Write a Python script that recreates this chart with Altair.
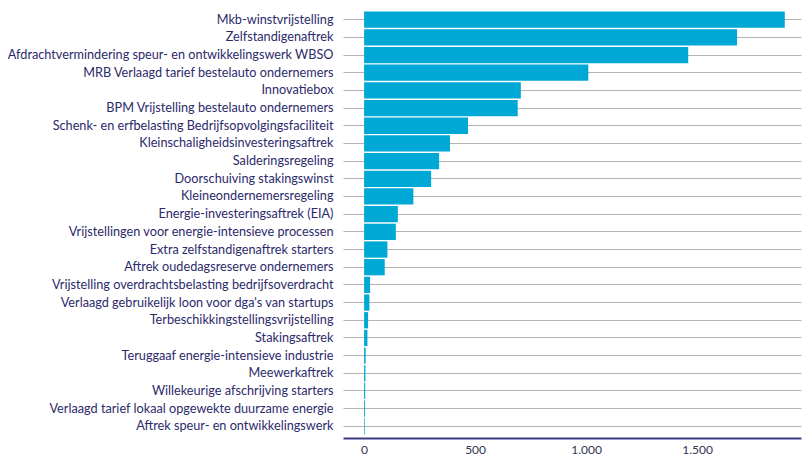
import altair as alt
import pandas as pd

categories = [
    "Mkb-winstvrijstelling",
    "Zelfstandigenaftrek",
    "Afdrachtvermindering speur- en ontwikkelingswerk WBSO",
    "MRB Verlaagd tarief bestelauto ondernemers",
    "Innovatiebox",
    "BPM Vrijstelling bestelauto ondernemers",
    "Schenk- en erfbelasting Bedrijfsopvolgingsfaciliteit",
    "Kleinschaligheidsinvesteringsaftrek",
    "Salderingsregeling",
    "Doorschuiving stakingswinst",
    "Kleineondernemersregeling",
    "Energie-investeringsaftrek (EIA)",
    "Vrijstellingen voor energie-intensieve processen",
    "Extra zelfstandigenaftrek starters",
    "Aftrek oudedagsreserve ondernemers",
    "Vrijstelling overdrachtsbelasting bedrijfsoverdracht",
    "Verlaagd gebruikelijk loon voor dga's van startups",
    "Terbeschikkingstellingsvrijstelling",
    "Stakingsaftrek",
    "Teruggaaf energie-intensieve industrie",
    "Meewerkaftrek",
    "Willekeurige afschrijving starters",
    "Verlaagd tarief lokaal opgewekte duurzame energie",
    "Aftrek speur- en ontwikkelingswerk",
]
values = [1895, 1680, 1460, 1010, 706, 692, 468, 387, 338, 302, 222, 152, 143,
          105, 93, 27, 24, 18, 15, 7, 6, 5, 4, 3]
x_ticks = [0, 500, 1000, 1500]

df = pd.DataFrame({"regeling": categories, "waarde": values})

NAVY = "#2c2a6b"

bars = alt.Chart(df).mark_bar(color="#00a8d5").encode(
    y=alt.Y(
        "regeling:N",
        sort=categories,
        title=None,
        scale=alt.Scale(paddingInner=0.08, paddingOuter=0.2),
        axis=alt.Axis(
            ticks=False,
            domain=False,
            grid=True,
            gridColor="#b4b4b4",
            gridWidth=1,
            labelPadding=10,
            labelFont="Lato",
            labelFontSize=12.7,
            labelColor=NAVY,
            labelLimit=400,
        ),
    ),
    x=alt.X(
        "waarde:Q",
        title=None,
        scale=alt.Scale(domain=[-95, 1968], nice=False, zero=False),
        axis=alt.Axis(
            values=x_ticks,
            ticks=False,
            grid=False,
            domainColor="#3b3a84",
            domainWidth=2,
            labelPadding=6,
            labelFont="Lato",
            labelFontSize=12,
            labelColor="#333355",
            labelExpr="replace(format(datum.value, ','), ',', '.')",
        ),
    ),
    x2=alt.datum(0),
)

chart = bars.properties(
    width=458,
    height=430,
    autosize=alt.AutoSizeParams(type="none"),
    padding={"left": 335, "top": 0, "right": 1, "bottom": 21},
).configure_view(stroke=None)

chart.save("out.html", embed_options={"renderer": "svg", "actions": False})
